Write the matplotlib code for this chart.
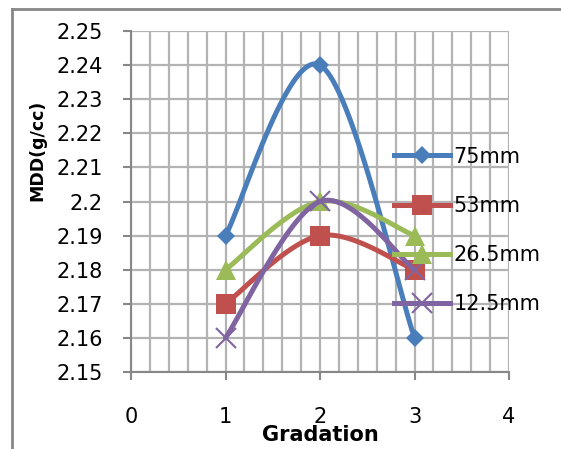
import numpy as np
import matplotlib.pyplot as plt
from matplotlib.lines import Line2D

plt.rcParams['font.family'] = ['DejaVu Sans']

gradation = [1, 2, 3]
mdd_75 = [2.19, 2.24, 2.16]
mdd_53 = [2.17, 2.19, 2.18]
mdd_265 = [2.18, 2.20, 2.19]
mdd_125 = [2.16, 2.20, 2.18]
labels = ['75mm', '53mm', '26.5mm', '12.5mm']
colors = ['#4A7EBB', '#C0504D', '#9BBB59', '#8064A2']
markers = ['D', 's', '^', 'x']
msizes = [9.5, 14, 14, 14]


def smooth(xs, ys, n=40):
    # Bezier smoothing through each point (chart-style smoothed line)
    p = np.column_stack([xs, ys]).astype(float)
    pad = np.vstack([p[0], p, p[-1]])
    t = np.linspace(0, 1, n)[:, None]
    out = []
    for i in range(len(p) - 1):
        p0, p3 = p[i], p[i + 1]
        c1 = p0 + (pad[i + 2] - pad[i]) / 6
        c2 = p3 - (pad[i + 3] - pad[i + 1]) / 6
        seg = ((1 - t) ** 3 * p0 + 3 * (1 - t) ** 2 * t * c1
               + 3 * (1 - t) * t ** 2 * c2 + t ** 3 * p3)
        out.append(seg if i == 0 else seg[1:])
    seg = np.vstack(out)
    return seg[:, 0], seg[:, 1]


fig = plt.figure(figsize=(5.61, 4.49), dpi=100)
ax = fig.add_axes([131 / 561, 77 / 449, 378 / 561, 341 / 449])

# outer chart frame (top and left edges)
fig.add_artist(Line2D([12 / 561, 1.0], [440 / 449, 440 / 449],
                      transform=fig.transFigure, color='#878787', linewidth=2))
fig.add_artist(Line2D([12 / 561, 12 / 561], [0, 440 / 449],
                      transform=fig.transFigure, color='#878787', linewidth=2))

handles = []
for ys, lab, c, m, ms in zip([mdd_75, mdd_53, mdd_265, mdd_125],
                             labels, colors, markers, msizes):
    mew = 1.5 if m == 'x' else 0
    sx, sy = smooth(gradation, ys)
    ax.plot(sx, sy, color=c, linewidth=3.6, solid_capstyle='round', zorder=3)
    ax.plot(gradation, ys, linestyle='none', marker=m, markersize=ms,
            color=c, markeredgewidth=mew, zorder=3)
    handles.append(Line2D([], [], color=c, linewidth=3.6, marker=m,
                          markersize=ms, markeredgewidth=mew))

ax.set_xlim(0, 4)
ax.set_ylim(2.15, 2.25)
ax.set_xticks([0, 1, 2, 3, 4])
ax.set_xticks(np.arange(0, 4.01, 0.2), minor=True)
ax.set_yticks(np.arange(2.15, 2.2501, 0.01))
ax.set_yticklabels(['2.15', '2.16', '2.17', '2.18', '2.19', '2.2',
                    '2.21', '2.22', '2.23', '2.24', '2.25'])
ax.grid(True, which='both', color='#B3B3B3', linewidth=1.6, zorder=0)
ax.set_axisbelow(True)
ax.tick_params(axis='both', which='major', direction='out', length=6,
               width=1.5, color='#878787', labelsize=15)
ax.tick_params(axis='x', which='minor', length=0)
ax.tick_params(axis='x', which='major', pad=19)
ax.tick_params(axis='y', which='major', pad=14.5)
for s in ['top', 'right']:
    ax.spines[s].set_visible(False)
for s in ['left', 'bottom']:
    ax.spines[s].set_color('#878787')
    ax.spines[s].set_linewidth(1.5)

ax.set_xlabel('Gradation', fontsize=15, fontweight='bold')
ax.xaxis.set_label_coords(0.5, -0.155)
ax.set_ylabel('MDD(g/cc)', fontsize=12.5, fontweight='bold')
ax.yaxis.set_label_coords(-0.224, 0.651)

leg = ax.legend(handles, labels, loc='center left',
                bbox_to_anchor=(0.696, 0.415), frameon=False, fontsize=15,
                handlelength=2.7, handletextpad=0.15, labelspacing=1.4,
                borderaxespad=0, borderpad=0)
leg.set_zorder(5)

fig.savefig('out.png', dpi=100)
